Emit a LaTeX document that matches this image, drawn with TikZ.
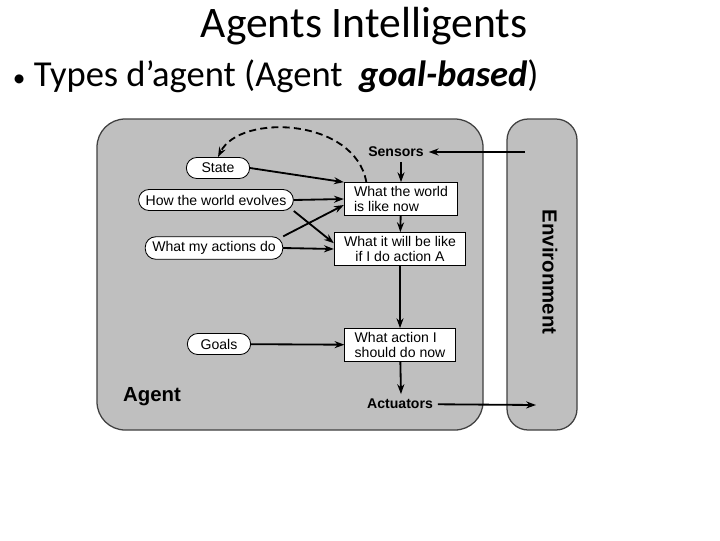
\documentclass[tikz,border=0pt]{standalone}
\usepackage{fontspec}
\setmainfont{Carlito}
\newfontfamily\helv{Liberation Sans}
\usetikzlibrary{arrows.meta,positioning}

\begin{document}
\begin{tikzpicture}[
  x=0.025cm, y=-0.025cm,
  >={Stealth[length=7pt,width=5pt]},
  every node/.style={font=\helv\fontsize{10}{11}\selectfont},
  memory/.style={draw, fill=white, rounded corners=7.5pt, minimum height=15pt,
                 minimum width=45pt, inner xsep=5pt, line width=0.6pt},
  stagebox/.style={draw, fill=white, inner xsep=7pt, inner ysep=2.5pt,
                   line width=0.6pt},
  arrow/.style={->, line width=1.3pt},
  panel/.style={draw=black!75, fill=black!25, line width=0.9pt},
]
  \useasboundingbox (0,0) rectangle (720,540);

  % slide text
  \node[font=\fontsize{31}{34}\selectfont] (title) at (364,26) {Agents Intelligents};
  \node[font=\fontsize{26}{30}\selectfont, anchor=west] (bullet) at (8,76)
    {{\fontsize{18}{18}\selectfont\textbullet}\ Types d’agent (Agent \ \textit{\textbf{goal-based}})};

  % agent and environment
  \draw[panel, rounded corners=20pt] (97,119) rectangle (483,430);
  \draw[panel, rounded corners=15pt] (507,119) rectangle (577,430);
  \node[rotate=-90, font=\helv\bfseries\fontsize{14.5}{16}\selectfont] (env) at (550,272)
    {Environment};
  \node[font=\helv\bfseries\fontsize{14.5}{16}\selectfont] (agent) at (152,397) {Agent};

  \node[font=\helv\bfseries\fontsize{10}{11}\selectfont] (sensors) at (396,152) {Sensors};
  \node[font=\helv\bfseries\fontsize{10}{11}\selectfont] (actuators) at (400,404) {Actuators};
  \coordinate (sensin) at (525,152);
  \coordinate (actout) at (536,405);

  \node[memory] (state) at (218,168) {State};
  \node[memory] (evolves) at (216,200) {How the world evolves};
  \node[memory] (actions) at (214,248) {What my actions do};
  \node[memory] (goals) at (219,344) {Goals};

  \node[stagebox, align=left] (now) at (401,199) {What the world\\is like now};
  \node[stagebox, align=center] (will) at (400,249) {What it will be like\\if I do action A};
  \node[stagebox, align=left] (action) at (400,345) {What action I\\should do now};

  \draw[arrow] (sensin) -- (sensors);
  \draw[arrow] (now |- sensors.south) -- (now);
  \draw[arrow] (now) -- (will);
  \draw[arrow] (will) -- (action);
  \draw[arrow] (action) -- (now |- actuators.north);
  \draw[arrow] (actuators) -- (actout);

  \draw[arrow] (state.east) -- (now.north west);
  \draw[arrow] (evolves.east) -- (now.west);
  \draw[arrow] (evolves.south east) -- (will.175);
  \draw[arrow] (actions.north east) -- (now.186);
  \draw[arrow] (actions.east) -- (will.west);
  \draw[arrow] (goals) -- (action);
  \draw[arrow, dashed, dash pattern=on 5pt off 3pt]
    ([xshift=16pt]now.north west) .. controls (355,118) and (240,113) .. (state.north);
\end{tikzpicture}
\end{document}
